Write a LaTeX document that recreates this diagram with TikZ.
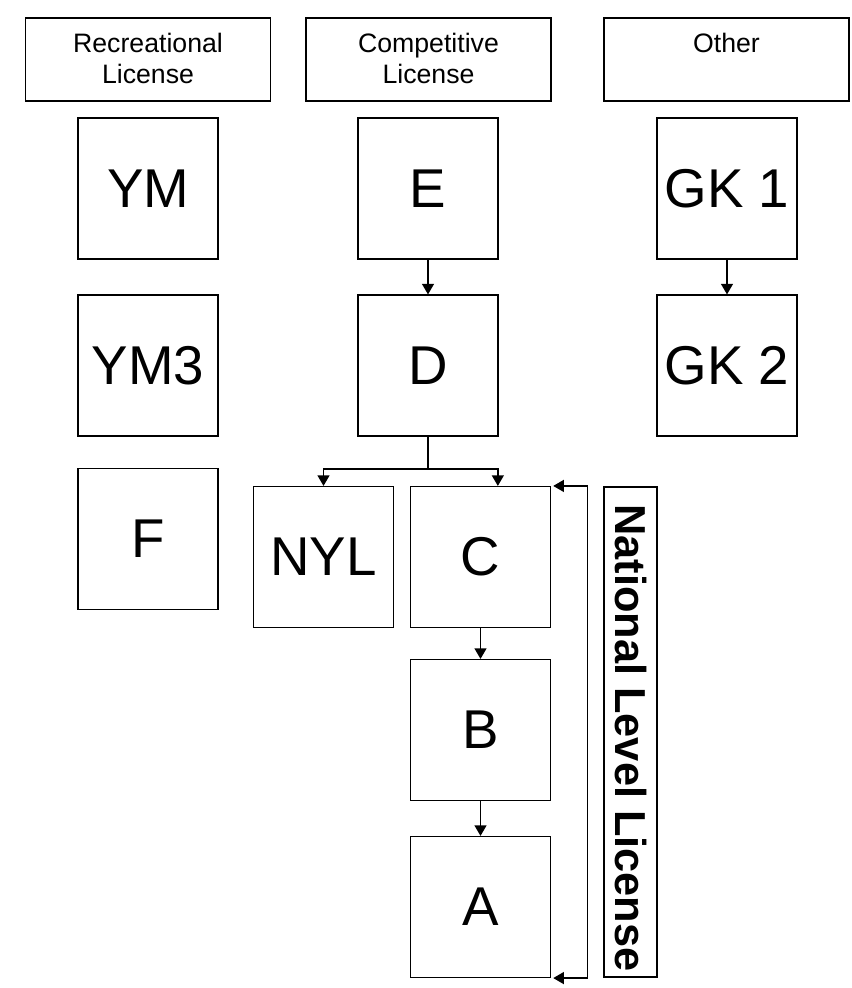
\documentclass[tikz,border=0pt]{standalone}
\usepackage{fontspec}
\setmainfont{Liberation Sans}
\usetikzlibrary{arrows.meta,calc}
\tikzset{
  lw/.style={line width=1.1pt},
  bigbox/.style={draw, lw, rectangle, minimum width=105pt, minimum height=105.5pt, inner sep=0pt,
    font=\fontsize{41}{41}\selectfont},
  headbox/.style={draw, lw, rectangle, minimum width=183.5pt, minimum height=62pt, inner sep=0pt},
  headtext/.style={anchor=north, align=center, inner sep=0pt, font=\fontsize{20}{23.5}\selectfont},
  tip/.style={Triangle[length=8pt,width=9pt]},
  conn/.style={lw, -{Triangle[length=8pt,width=9pt]}},
  line/.style={lw}
}
\begin{document}
\begin{tikzpicture}[x=0.75pt, y=-0.75pt]
\useasboundingbox (0,0) rectangle (851,988);
\fill[white] (0,0) rectangle (851,988);
% headers
\node[headbox] (hrec) at (148,59.5) {};
\node[headbox] (hcomp) at (428.5,59.5) {};
\node[headbox] (hoth) at (726.5,59.5) {};
\node[headtext] (trec) at (148,33) {Recreational\\License};
\node[headtext] (tcomp) at (428.5,33) {Competitive\\License};
\node[headtext] (toth) at (726.5,33) {Other};
% boxes
\node[bigbox] (YM) at (148,188.5) {YM};
\node[bigbox] (YM3) at (148,365.5) {YM3};
\node[bigbox] (F) at (148,539) {F};
\node[bigbox] (E) at (428,188.5) {E};
\node[bigbox] (D) at (428,365.5) {D};
\node[bigbox] (GK1) at (727,188.5) {GK 1};
\node[bigbox] (GK2) at (727,365.5) {GK 2};
\node[bigbox] (NYL) at (323.5,557) {NYL};
\node[bigbox] (C) at (480.5,557) {C};
\node[bigbox] (B) at (480.5,730) {B};
\node[bigbox] (A) at (480.5,907) {A};
% national level
\node[draw, lw, rectangle, minimum width=39.75pt, minimum height=367.5pt, inner sep=0pt] (nat) at (630.5,732) {};
\node[rotate=-90, inner sep=0pt, font=\bfseries\fontsize{32.5}{32.5}\selectfont] (natt) at (630.5,738) {National Level License};
% connectors
\draw[conn] (E.south) -- (D.north);
\draw[conn] (GK1.south) -- (GK2.north);
\coordinate (split) at (428,469);
\coordinate (ctop) at ([xshift=13pt]C.north);
\draw[line] (D.south) -- (split);
\draw[conn] (split) -| (NYL.north);
\draw[conn] (split) -| (ctop);
\draw[conn] (C.south) -- (B.north);
\draw[conn] (B.south) -- (A.north);
\coordinate (bt) at ([xshift=27pt]C.north east);
\coordinate (bb) at ([xshift=27pt]A.south east);
\draw[lw, {Triangle[length=8pt,width=9pt]}-{Triangle[length=8pt,width=9pt]}]
  ([xshift=1.5pt]C.north east) -- (bt) -- (bb) -- ([xshift=1.5pt]A.south east);
\end{tikzpicture}
\end{document}
